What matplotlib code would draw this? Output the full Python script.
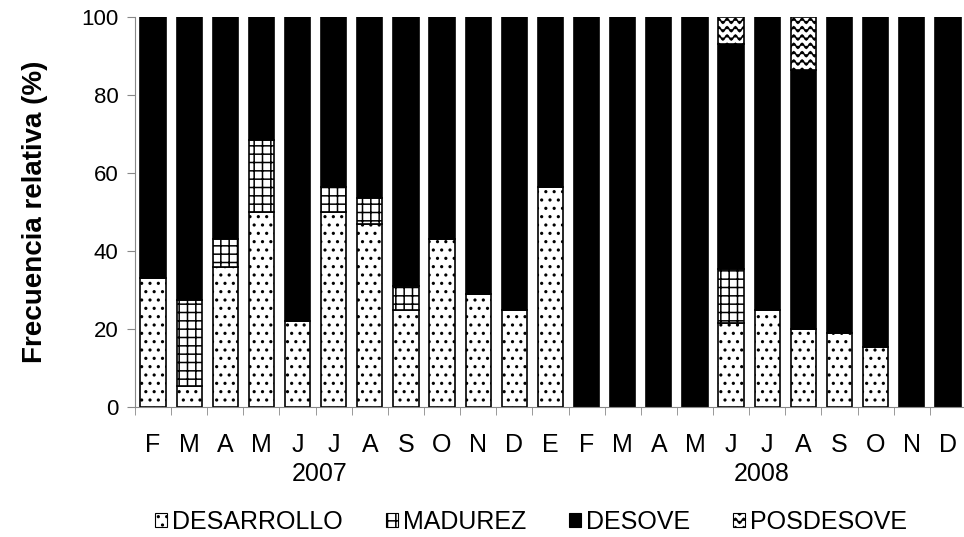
import warnings
import numpy as np
import matplotlib
matplotlib.use("Agg")
import matplotlib.pyplot as plt
import matplotlib.hatch as mhatch
from matplotlib.path import Path
from matplotlib.patches import Patch

warnings.filterwarnings('ignore')
plt.rcParams['font.family'] = ['Liberation Sans', 'DejaVu Sans']
plt.rcParams['hatch.linewidth'] = 1.1


# wavy hatch for POSDESOVE ('~')
class WaveHatch(mhatch.HatchPatternBase):
    periods = 12
    pts = 8

    def __init__(self, hatch, density):
        self.num_rows = int(hatch.count('~') * density)
        self.per_row = self.periods * self.pts + 1
        self.num_vertices = self.num_rows * self.per_row

    def set_vertices_and_codes(self, vertices, codes):
        ys, step = np.linspace(0.0, 1.0, self.num_rows, False, retstep=True)
        ys += step / 2.
        t = np.linspace(0.0, 1.0, self.per_row)
        wave = 0.3 * step * np.sin(2 * np.pi * self.periods * t)
        for i, y in enumerate(ys):
            sl = slice(i * self.per_row, (i + 1) * self.per_row)
            vertices[sl, 0] = t
            vertices[sl, 1] = y + wave
            codes[sl] = Path.LINETO
            codes[i * self.per_row] = Path.MOVETO


mhatch._hatch_types.append(WaveHatch)

months = ['F', 'M', 'A', 'M', 'J', 'J', 'A', 'S', 'O', 'N', 'D', 'E',
          'F', 'M', 'A', 'M', 'J', 'J', 'A', 'S', 'O', 'N', 'D']
desarrollo = [33, 5.5, 36, 50, 22, 50, 47, 25, 43, 29, 25, 56.5,
              0, 0, 0, 0, 21.5, 25, 20, 19, 15.5, 0, 0]
madurez = [0, 22, 7, 18.5, 0, 6.5, 6.5, 6, 0, 0, 0, 0,
           0, 0, 0, 0, 14, 0, 0, 0, 0, 0, 0]
posdesove = [0] * 16 + [7, 0, 13.5, 0, 0, 0, 0]
desove = [100 - a - b - c for a, b, c in zip(desarrollo, madurez, posdesove)]
years = ['2007', '2008']
year_pos = [4.6, 16.85]

fig = plt.figure(figsize=(9.64, 5.37), dpi=100)
ax = fig.add_axes([0.14, 0.242, 0.862, 0.726])

x = np.arange(len(months))
w = 0.7
b1 = np.array(desarrollo)
b2 = b1 + np.array(madurez)
b3 = b2 + np.array(desove)
ax.bar(x, desarrollo, w, color='white', edgecolor='black', hatch='..', lw=1.2)
ax.bar(x, madurez, w, bottom=b1, color='white', edgecolor='black', hatch='++', lw=1.2)
ax.bar(x, desove, w, bottom=b2, color='black', edgecolor='black', lw=1.2)
ax.bar(x, posdesove, w, bottom=b3, color='white', edgecolor='black', hatch='~~', lw=1.2)

ax.set_xlim(-0.5, len(months) - 0.5)
ax.set_ylim(0, 100)
ax.set_yticks([0, 20, 40, 60, 80, 100])
ax.set_xticks(x)
ax.set_xticklabels(months)
ax.set_xticks(np.arange(-0.5, len(months), 1), minor=True)
ax.tick_params(axis='x', which='major', length=0, pad=19, labelsize=18)
ax.tick_params(axis='x', which='minor', length=6, color='#888888')
ax.tick_params(axis='y', length=6, color='#888888', labelsize=16, pad=6)
for s in ['top', 'right']:
    ax.spines[s].set_visible(False)
ax.spines['left'].set_color('#888888')
ax.spines['bottom'].set_color('#888888')
ax.set_ylabel('Frecuencia relativa (%)', fontsize=20, fontweight='bold', labelpad=24)

for yr, p in zip(years, year_pos):
    ax.text(p, -17.2, yr, ha='center', va='center', fontsize=18)

handles = [Patch(facecolor='white', edgecolor='black', hatch='..', lw=0.8),
           Patch(facecolor='white', edgecolor='black', hatch='++', lw=0.8),
           Patch(facecolor='black', edgecolor='black', lw=0.8),
           Patch(facecolor='white', edgecolor='black', hatch='~~', lw=0.8)]
labels = ['DESARROLLO', 'MADUREZ', 'DESOVE', 'POSDESOVE']
fig.legend(handles, labels, loc='center', bbox_to_anchor=(0.551, 0.028), ncol=4,
           frameon=False, fontsize=18, handlelength=0.5, handleheight=0.5,
           handletextpad=0.2, columnspacing=1.7, borderpad=0)

fig.savefig('out.png', dpi=100)
